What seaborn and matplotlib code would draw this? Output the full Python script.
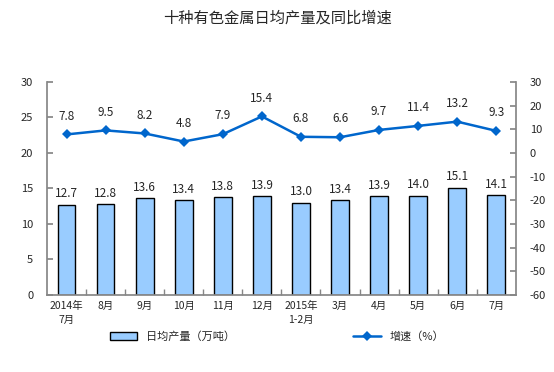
import matplotlib
matplotlib.use("Agg")
import matplotlib.pyplot as plt
import seaborn as sns
import pandas as pd

# --- dados ---
meses = ["2014年\n7月", "8月", "9月", "10月", "11月", "12月", "2015年\n1-2月",
         "3月", "4月", "5月", "6月", "7月"]
producao = [12.7, 12.8, 13.6, 13.4, 13.8, 13.9, 13.0, 13.4, 13.9, 14.0, 15.1, 14.1]
crescimento = [7.8, 9.5, 8.2, 4.8, 7.9, 15.4, 6.8, 6.6, 9.7, 11.4, 13.2, 9.3]

df = pd.DataFrame({"mes": meses, "producao": producao, "crescimento": crescimento})

sns.set_theme(style="white")
plt.rcParams['font.family'] = ['Noto Sans CJK SC', 'DejaVu Sans']
plt.rcParams['axes.unicode_minus'] = False

fig = plt.figure(figsize=(5.54, 3.72), dpi=100)
ax = fig.add_axes([0.085, 0.207, 0.846, 0.573])

sns.barplot(data=df, x="mes", y="producao", color="#99CCFF", edgecolor="black",
            linewidth=1.0, width=0.45, saturation=1, ax=ax, label="日均产量（万吨）")
for i, v in enumerate(producao):
    ax.text(i, v + 0.6, f"{v:.1f}", ha="center", va="bottom", fontsize=8.5)

ax.set_ylim(0, 30)
ax.set_yticks(range(0, 31, 5))
ax.set_xlabel("")
ax.set_ylabel("")
ax.set_xlim(-0.5, len(meses) - 0.5)

ax2 = ax.twinx()
sns.lineplot(x=list(range(len(meses))), y=crescimento, ax=ax2, color="#0066CC",
             marker="D", markersize=5, markeredgewidth=0, linewidth=1.8,
             label="增速（%）", legend=False)
for i, v in enumerate(crescimento):
    ax2.text(i, v + 5, f"{v:.1f}", ha="center", va="bottom", fontsize=8.5)
ax2.set_ylim(-60, 30)
ax2.set_yticks(range(-60, 31, 10))

for a in (ax, ax2):
    for s in a.spines.values():
        s.set_color("#868686")
    a.spines["top"].set_visible(False)
ax2.spines["left"].set_visible(False)
ax2.spines["bottom"].set_visible(False)
ax.spines["right"].set_visible(False)

ax.tick_params(axis="y", direction="in", length=4, color="#868686", labelsize=8, pad=10, left=True)
ax2.tick_params(axis="y", direction="in", length=4, color="#868686", labelsize=8, pad=10, right=True)
ax.set_xticks([i + 0.5 for i in range(len(meses) - 1)], minor=True)
ax.tick_params(axis="x", which="minor", direction="in", length=4, color="#868686", bottom=True)
ax.tick_params(axis="x", which="major", length=0, labelsize=7.5, pad=4)
ax.set_xticks(range(len(meses)))
ax.set_xticklabels(meses, linespacing=1.6)

fig.suptitle("十种有色金属日均产量及同比增速", x=0.5, y=0.975, fontsize=11)

h1, l1 = ax.get_legend_handles_labels()
h2, l2 = ax2.get_legend_handles_labels()
if ax.get_legend():
    ax.get_legend().remove()
fig.legend(h1 + h2, l1 + l2, loc="center", bbox_to_anchor=(0.5, 0.095), ncol=2,
           frameon=False, fontsize=8, columnspacing=10.6, handlelength=2.5)

fig.savefig("out.png", dpi=100)
